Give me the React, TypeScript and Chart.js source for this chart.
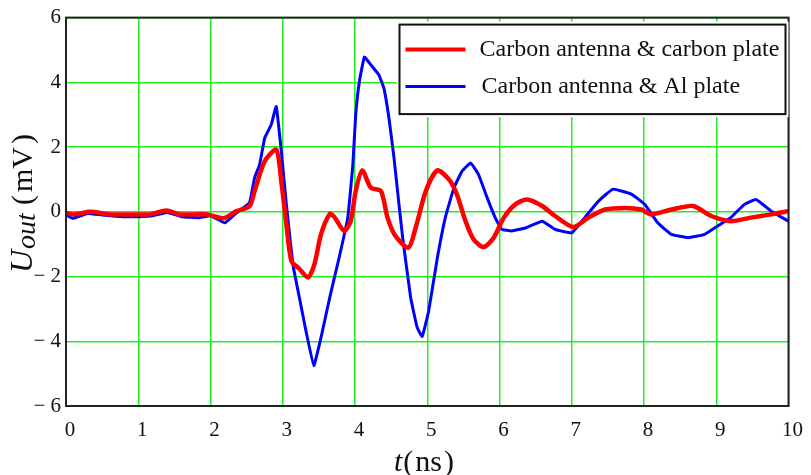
import React, { useEffect, useRef } from "react";
import { Chart, registerables } from "chart.js";

Chart.register(...registerables);

// Carbon antenna & carbon plate (red)
const redT = [0, 0.11, 0.34, 0.61, 0.98, 1.16, 1.39, 1.58, 1.95, 2.18, 2.36, 2.54, 2.61, 2.75, 2.91, 2.98, 3.05, 3.12, 3.23, 3.35, 3.44, 3.53, 3.65, 3.71, 3.85, 3.94, 4.01, 4.1, 4.22, 4.36, 4.45, 4.56, 4.74, 4.84, 4.98, 5.14, 5.3, 5.41, 5.53, 5.64, 5.78, 5.92, 6.06, 6.22, 6.38, 6.59, 6.77, 7.02, 7.23, 7.46, 7.74, 7.96, 8.1, 8.38, 8.68, 8.93, 9.2, 9.48, 9.76, 10];
const redV = [-0.03, -0.08, 0.0, -0.08, -0.08, -0.08, 0.04, -0.08, -0.08, -0.2, 0.02, 0.17, 0.64, 1.56, 1.92, 0.94, -0.38, -1.52, -1.76, -2.03, -1.61, -0.69, -0.07, -0.15, -0.59, -0.29, 0.64, 1.28, 0.74, 0.64, -0.18, -0.75, -1.11, -0.49, 0.64, 1.28, 1.0, 0.54, -0.29, -0.85, -1.09, -0.8, -0.18, 0.23, 0.38, 0.18, -0.13, -0.47, -0.18, 0.07, 0.12, 0.07, -0.08, 0.07, 0.18, -0.13, -0.29, -0.18, -0.08, 0.02];

// Carbon antenna & Al plate (blue)
const blueT = [0, 0.1, 0.3, 0.5, 0.8, 1.0, 1.2, 1.4, 1.6, 1.85, 2.0, 2.2, 2.36, 2.54, 2.61, 2.68, 2.75, 2.84, 2.91, 2.98, 3.05, 3.14, 3.23, 3.32, 3.43, 3.53, 3.65, 3.78, 3.9, 3.97, 4.01, 4.06, 4.13, 4.22, 4.33, 4.4, 4.47, 4.54, 4.61, 4.66, 4.77, 4.86, 4.93, 5.02, 5.14, 5.25, 5.37, 5.48, 5.6, 5.71, 5.83, 5.94, 6.03, 6.17, 6.36, 6.59, 6.77, 7.0, 7.18, 7.37, 7.57, 7.83, 8.01, 8.19, 8.38, 8.61, 8.84, 9.02, 9.2, 9.39, 9.55, 9.76, 10];
const blueV = [-0.1, -0.2, -0.05, -0.1, -0.15, -0.15, -0.12, -0.02, -0.15, -0.18, -0.12, -0.34, -0.03, 0.28, 1.05, 1.46, 2.28, 2.69, 3.25, 1.87, 0.23, -1.62, -2.65, -3.67, -4.75, -3.88, -2.65, -1.42, -0.18, 1.46, 3.0, 4.02, 4.78, 4.54, 4.23, 3.82, 2.89, 1.66, 0.2, -0.8, -2.65, -3.57, -3.85, -3.06, -1.42, -0.18, 0.74, 1.25, 1.51, 1.15, 0.43, -0.18, -0.54, -0.59, -0.5, -0.29, -0.54, -0.65, -0.18, 0.33, 0.7, 0.54, 0.23, -0.34, -0.7, -0.8, -0.7, -0.44, -0.18, 0.23, 0.38, 0.02, -0.29];

const seriesLabels = ["Carbon antenna & carbon plate", "Carbon antenna & Al plate"];
const seriesColors = ["#ff0000", "#0000ff"];

const xMin = 0, xMax = 10, xStep = 1;
const yMin = -6, yMax = 6, yStep = 2;

const SERIF = '"Liberation Serif", "DejaVu Serif", serif';
const GRID = "rgb(30,240,30)";

const decorPlugin = {
  id: "decor",
  afterDraw(chart: any) {
    const ctx = chart.ctx as CanvasRenderingContext2D;
    const a = chart.chartArea;
    ctx.save();
    // plot frame
    ctx.strokeStyle = "#222";
    ctx.lineWidth = 2;
    ctx.strokeRect(a.left, a.top, a.right - a.left, a.bottom - a.top);

    // legend box
    const lx = a.left + 333.5, ly = a.top + 7, lw = 386, lh = 89.5;
    ctx.fillStyle = "#fff";
    ctx.fillRect(lx - 3, ly - 3, lw + 6, lh + 6);
    ctx.strokeStyle = "#111";
    ctx.lineWidth = 2;
    ctx.strokeRect(lx, ly, lw, lh);
    const rows = [ly + 25, ly + 62];
    const widths = [4, 3];
    ctx.font = `24px ${SERIF}`;
    ctx.textBaseline = "middle";
    ctx.textAlign = "left";
    for (let i = 0; i < 2; i++) {
      ctx.strokeStyle = seriesColors[i];
      ctx.lineWidth = widths[i];
      ctx.beginPath();
      ctx.moveTo(lx + 6, rows[i]);
      ctx.lineTo(lx + 66, rows[i]);
      ctx.stroke();
      ctx.fillStyle = "#111";
      ctx.fillText(seriesLabels[i], lx + 80 + i * 2, rows[i]);
    }

    // x title: t (ns)
    ctx.textBaseline = "alphabetic";
    ctx.fillStyle = "#111";
    let x = 394;
    const by = 471;
    ctx.font = `italic 30px ${SERIF}`;
    ctx.fillText("t", x, by);
    x += ctx.measureText("t").width + 1;
    ctx.font = `30px ${SERIF}`;
    ctx.fillText("(", x, by);
    x += ctx.measureText("(").width + 2;
    ctx.fillText("ns", x, by);
    x += ctx.measureText("ns").width + 2;
    ctx.fillText(")", x, by);

    // y title: U_out (mV)
    ctx.translate(32, 273);
    ctx.rotate(-Math.PI / 2);
    let p = 0;
    ctx.font = `italic 32px ${SERIF}`;
    ctx.fillText("U", p, 0);
    p += ctx.measureText("U").width + 1;
    ctx.font = `italic 28px ${SERIF}`;
    ctx.fillText("out", p, 3);
    p += ctx.measureText("out").width + 8;
    ctx.font = `30px ${SERIF}`;
    ctx.fillText("(", p, 0);
    p += ctx.measureText("(").width + 3;
    ctx.fillText("mV", p, 0);
    p += ctx.measureText("mV").width + 3;
    ctx.fillText(")", p, 0);
    ctx.restore();
  },
};

export default function App() {
  const ref = useRef<HTMLCanvasElement | null>(null);
  useEffect(() => {
    if (!ref.current) return;
    const chart = new Chart(ref.current, {
      type: "line",
      data: {
        datasets: [
          {
            label: seriesLabels[0],
            data: redT.map((t, i) => ({ x: t, y: redV[i] })),
            borderColor: seriesColors[0],
            borderWidth: 4.5,
            pointRadius: 0,
            tension: 0.25,
            fill: false,
          },
          {
            label: seriesLabels[1],
            data: blueT.map((t, i) => ({ x: t, y: blueV[i] })),
            borderColor: seriesColors[1],
            borderWidth: 3,
            pointRadius: 0,
            tension: 0.1,
            fill: false,
          },
        ],
      },
      options: {
        responsive: false,
        animation: false,
        events: [],
        layout: { padding: { left: 0, top: 15, right: 20, bottom: 0 } },
        plugins: { legend: { display: false }, tooltip: { enabled: false } },
        scales: {
          x: {
            type: "linear",
            min: xMin,
            max: xMax,
            afterFit: (s: any) => { s.height = 69; },
            afterBuildTicks: (s: any) => {
              const t = [];
              for (let v = xMin; v <= xMax; v += xStep) t.push({ value: v });
              s.ticks = t;
            },
            grid: { color: GRID, lineWidth: 1.5, drawTicks: false },
            border: { display: false },
            ticks: {
              stepSize: xStep,
              padding: 12,
              labelOffset: 4,
              color: "#111",
              font: { family: SERIF, size: 21 },
              maxRotation: 0,
              callback: (v: any) => String(v),
            },
          },
          y: {
            type: "linear",
            min: yMin,
            max: yMax,
            afterFit: (s: any) => { s.width = 66; },
            afterBuildTicks: (s: any) => {
              const t = [];
              for (let v = yMin; v <= yMax; v += yStep) t.push({ value: v });
              s.ticks = t;
            },
            grid: { color: GRID, lineWidth: 1.5, drawTicks: false },
            border: { display: false },
            ticks: {
              stepSize: yStep,
              padding: 5,
              color: "#111",
              font: { family: SERIF, size: 21 },
              callback: (v: any) => (v < 0 ? "\u2212 " + Math.abs(v) : String(v)),
            },
          },
        },
      },
      plugins: [decorPlugin],
    });
    return () => chart.destroy();
  }, []);
  return (
    <div style={{ position: "fixed", left: 0, top: 0, width: 811, height: 475, background: "#fff" }}>
      <canvas ref={ref} width={811} height={475} />
    </div>
  );
}
